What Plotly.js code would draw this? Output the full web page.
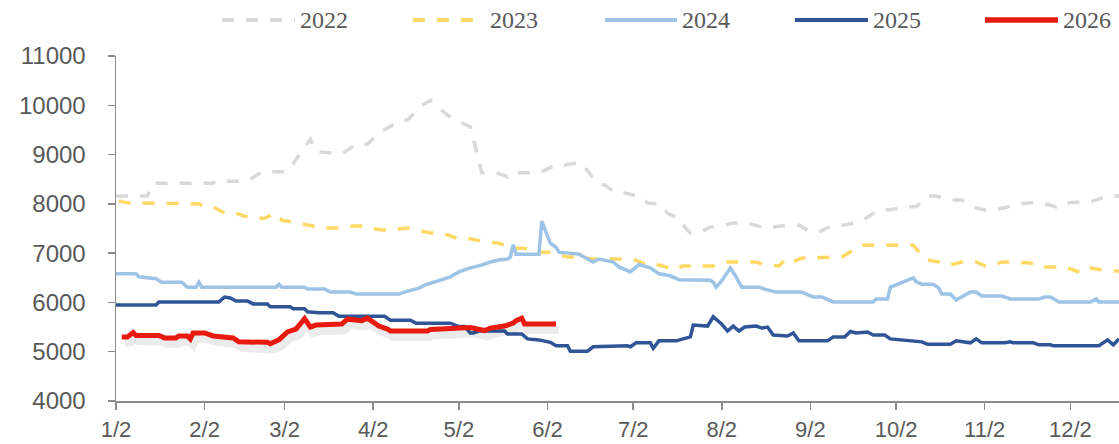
<!DOCTYPE html>
<html>
<head>
<meta charset="utf-8">
<script src="https://cdn.plot.ly/plotly-3.0.1.min.js"></script>
<style>html,body{margin:0;padding:0;background:#fff;}#chart{width:1119px;height:444px;}</style>
</head>
<body>
<div id="chart"></div>
<script>
// ---- data ----
const tickDates  = ['01-02','02-02','03-02','04-02','05-02','06-02','07-02','08-02','09-02','10-02','11-02','12-02'];
const tickLabels = ['1/2','2/2','3/2','4/2','5/2','6/2','7/2','8/2','9/2','10/2','11/2','12/2'];

const dates2022 = ['01-02','01-13','01-15','02-05','02-06','02-17','02-22','03-03','03-11','03-13','03-22','03-27','03-31','04-04','04-07','04-12','04-14','04-19','04-22','04-28','05-04','05-06','05-10','05-15','05-19','05-20','05-30','06-05','06-08','06-12','06-14','06-19','06-22','06-26','06-29','07-05','07-07','07-12','07-14','07-18','07-20','07-22','07-25','07-29','07-31','08-06','08-11','08-16','08-20','08-25','08-29','09-02','09-05','09-10','09-14','09-19','09-22','09-26','09-30','10-06','10-09','10-13','10-16','10-21','10-25','10-30','11-03','11-09','11-12','11-18','11-22','11-27','11-29','12-06','12-09','12-15','12-19'];
const price2022 = [8160,8160,8420,8420,8460,8460,8650,8650,9310,9060,9010,9210,9210,9440,9540,9700,9700,10000,10100,9800,9620,9560,8630,8630,8550,8630,8630,8790,8790,8830,8830,8440,8380,8220,8220,8140,8020,7980,7810,7710,7530,7410,7410,7530,7530,7610,7610,7530,7530,7570,7570,7430,7430,7570,7570,7630,7730,7880,7880,7940,7940,8160,8160,8080,8080,7920,7860,7920,7980,8020,8020,7940,8020,8040,8040,8160,8160];

const dates2023 = ['01-03','01-06','01-31','02-02','02-05','02-09','02-13','02-18','02-23','02-27','03-01','03-07','03-10','03-16','03-20','03-26','03-29','04-05','04-08','04-14','04-22','04-26','05-02','05-06','05-11','05-16','05-21','05-25','05-30','06-03','06-09','06-12','06-18','07-02','07-07','07-11','07-16','07-18','07-19','07-30','08-04','08-08','08-14','08-17','08-22','08-24','08-26','08-30','09-03','09-09','09-13','09-17','09-20','09-30','10-08','10-10','10-13','10-17','10-21','10-25','10-30','11-03','11-08','11-12','11-18','11-21','11-26','11-30','12-06','12-09','12-15','12-19'];
const price2023 = [8060,8020,8000,7940,7940,7810,7810,7710,7710,7810,7670,7610,7570,7510,7510,7550,7550,7470,7470,7510,7410,7410,7290,7290,7230,7200,7100,7100,7020,7020,6920,6920,6880,6880,6760,6760,6680,6680,6740,6740,6820,6820,6820,6760,6740,6860,6800,6900,6900,6920,6920,7060,7160,7160,7160,7020,6860,6820,6760,6820,6820,6720,6820,6820,6800,6720,6720,6720,6600,6700,6640,6640];

const dates2024 = ['01-02','01-09','01-10','01-16','01-18','01-25','01-27','01-30','01-31','02-01','02-27','02-28','03-01','03-09','03-10','03-16','03-18','03-25','03-27','04-11','04-14','04-18','04-20','04-22','04-26','04-29','05-02','05-06','05-10','05-13','05-16','05-19','05-20','05-21','05-22','05-30','05-31','06-03','06-05','06-06','06-13','06-18','06-20','06-25','06-27','07-01','07-04','07-08','07-11','07-15','07-18','07-29','07-30','07-31','08-02','08-05','08-07','08-09','08-15','08-17','08-21','08-30','09-03','09-06','09-10','09-24','09-25','09-29','09-30','10-08','10-09','10-11','10-15','10-17','10-18','10-21','10-23','10-28','10-30','11-01','11-08','11-11','11-21','11-23','11-25','11-28','12-09','12-11','12-12','12-19'];
const price2024 = [6580,6580,6520,6480,6410,6410,6310,6310,6410,6310,6310,6370,6310,6310,6270,6270,6210,6210,6170,6170,6230,6290,6350,6390,6470,6520,6620,6700,6760,6820,6860,6880,6920,7170,6980,6980,7650,7200,7120,7020,6980,6820,6880,6820,6720,6620,6770,6700,6580,6540,6460,6450,6410,6310,6440,6700,6520,6310,6310,6270,6210,6210,6110,6110,6010,6010,6070,6070,6310,6500,6420,6370,6370,6290,6170,6170,6050,6210,6210,6130,6130,6070,6070,6110,6110,6010,6010,6070,6010,6010];

const dates2025 = ['01-02','01-16','01-17','02-07','02-09','02-11','02-13','02-17','02-19','02-24','02-25','03-04','03-05','03-09','03-10','03-14','03-19','03-21','04-06','04-08','04-15','04-17','04-29','05-02','05-04','05-06','05-07','05-09','05-18','05-19','05-24','05-26','05-30','06-03','06-05','06-09','06-10','06-16','06-18','06-30','07-01','07-03','07-08','07-09','07-11','07-17','07-22','07-23','07-28','07-30','08-02','08-04','08-06','08-08','08-10','08-14','08-16','08-18','08-20','08-25','08-27','08-29','09-08','09-10','09-14','09-16','09-18','09-22','09-24','09-28','09-30','10-11','10-13','10-21','10-23','10-28','10-30','11-01','11-09','11-11','11-12','11-19','11-21','11-25','11-26','12-12','12-15','12-17','12-19'];
const price2025 = [5950,5950,6010,6010,6110,6090,6030,6030,5970,5970,5910,5910,5870,5870,5810,5790,5790,5720,5720,5640,5640,5580,5580,5510,5510,5380,5380,5420,5420,5360,5360,5260,5240,5190,5120,5120,5010,5010,5100,5120,5100,5180,5180,5070,5220,5220,5300,5540,5520,5710,5560,5420,5520,5420,5500,5520,5480,5500,5340,5320,5380,5220,5220,5300,5300,5410,5380,5400,5340,5340,5260,5200,5150,5150,5220,5180,5260,5180,5180,5200,5180,5180,5140,5140,5120,5120,5240,5140,5260];

const dates2026 = ['01-04','01-06','01-08','01-09','01-17','01-19','01-23','01-24','01-27','01-28','01-29','02-02','02-05','02-12','02-14','02-24','02-25','02-28','03-03','03-06','03-09','03-11','03-13','03-18','03-22','03-24','03-29','03-31','04-02','04-04','04-07','04-08','04-21','04-22','05-06','05-07','05-11','05-13','05-18','05-21','05-22','05-24','05-25','06-05'];
const price2026 = [5300,5300,5390,5330,5330,5280,5280,5320,5320,5260,5380,5380,5320,5280,5200,5190,5160,5240,5400,5460,5670,5500,5540,5540,5560,5660,5630,5680,5600,5520,5460,5420,5420,5450,5490,5480,5430,5480,5520,5580,5630,5680,5560,5560];

const seriesNames = ['2022','2023','2024','2025','2026'];

// ---- build ----
const YEAR = '2021-';
const toDate = a => a.map(d => YEAR + d);
const colors = {'2022':'#d9d9d9','2023':'#ffd966','2024':'#9dc3e6','2025':'#2f5597','2026':'#e8190e'};

const traces = [
  {x: toDate(dates2022), y: price2022, name: '2022', mode:'lines', line:{color:colors['2022'], width:3.5, dash:'12px,12px'}},
  {x: toDate(dates2023), y: price2023, name: '2023', mode:'lines', line:{color:colors['2023'], width:3.5, dash:'12px,12px'}},
  {x: toDate(dates2024), y: price2024, name: '2024', mode:'lines', line:{color:colors['2024'], width:3.5}},
  {x: toDate(dates2025), y: price2025, name: '2025', mode:'lines', line:{color:colors['2025'], width:3.5}},
  // soft shadow of the 2026 line (same data, offset axes)
  {x: toDate(dates2026), y: price2026, name: '2026 shadow', mode:'lines', xaxis:'x2', yaxis:'y2', hoverinfo:'skip',
   line:{color:'rgba(0,0,0,0.08)', width:8}},
  {x: toDate(dates2026), y: price2026, name: '2026', mode:'lines', xaxis:'x3', yaxis:'y3', line:{color:colors['2026'], width:5}}
];

const xr = [YEAR+'01-02', YEAR+'12-19'];
const yr = [4000, 11000];
const axisGrey = '#8c8c8c';
const xTickFont = {family:'"Liberation Sans", Arial, sans-serif', size:22, color:'#595959'};
const yTickFont = {family:'"Liberation Sans", Arial, sans-serif', size:24, color:'#595959'};

// custom legend: long line samples + serif labels
const legendX = [[222,295],[413,485],[605,677],[795,868],[985,1058]];
const L = 116, W = 1003, T = 56, H = 345;
const px2x = p => (p - L) / W;
const legY = (401 - 20) / H;
const shapes = [], annotations = [];
const legendStyles = {
  '2022': {color:colors['2022'], width:4, dash:'dash'},
  '2023': {color:colors['2023'], width:4, dash:'dash'},
  '2024': {color:colors['2024'], width:4, dash:'solid'},
  '2025': {color:colors['2025'], width:4, dash:'solid'},
  '2026': {color:colors['2026'], width:5.5, dash:'solid'}
};
seriesNames.forEach((n, i) => {
  shapes.push({type:'line', xref:'paper', yref:'paper', x0:px2x(legendX[i][0]), x1:px2x(legendX[i][1]), y0:legY, y1:legY, line:legendStyles[n]});
  annotations.push({xref:'paper', yref:'paper', x:px2x(legendX[i][1]+3), y:legY, xanchor:'left', yanchor:'middle', text:n, showarrow:false,
    font:{family:'"Liberation Serif", "Times New Roman", serif', size:24, color:'#595959'}});
});

const layout = {
  width:1119, height:444,
  margin:{l:L, r:0, t:T, b:444-T-H},
  paper_bgcolor:'#fff', plot_bgcolor:'#fff',
  showlegend:false,
  xaxis:{type:'date', range:xr, tickmode:'array', tickvals:toDate(tickDates), ticktext:tickLabels,
    showline:true, linecolor:axisGrey, linewidth:1.5, ticks:'outside', ticklen:7, tickwidth:1.5, tickcolor:axisGrey,
    showgrid:false, zeroline:false, tickfont:xTickFont, ticklabelstandoff:1, fixedrange:true},
  yaxis:{range:yr, tick0:4000, dtick:1000, tickformat:'d', showline:true, linecolor:axisGrey, linewidth:1.5, ticks:'outside', ticklen:7,
    tickwidth:1.5, tickcolor:axisGrey, showgrid:false, zeroline:false, tickfont:yTickFont, ticklabelstandoff:17, fixedrange:true},
  xaxis2:{type:'date', overlaying:'x', anchor:'y2', range:[YEAR+'01-01', YEAR+'12-18'], visible:false, fixedrange:true},
  yaxis2:{overlaying:'y', anchor:'x2', range:[4120, 11120], visible:false, fixedrange:true},
  xaxis3:{type:'date', overlaying:'x', anchor:'y3', range:xr, visible:false, fixedrange:true},
  yaxis3:{overlaying:'y', anchor:'x3', range:yr, visible:false, fixedrange:true},
  shapes:shapes, annotations:annotations
};

Plotly.newPlot('chart', traces, layout, {displayModeBar:false, staticPlot:true});
</script>
</body>
</html>
